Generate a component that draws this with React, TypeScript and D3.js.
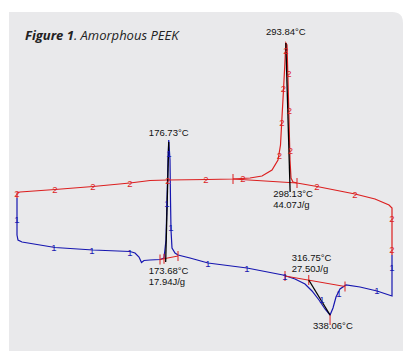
import { line, scaleLinear } from "d3";

// DSC trace: temperature (°C) vs heat flow (W/g, arbitrary offset)
const heatCurve: [number, number][] = [
    [25, -0.08], [25, -0.03], [28, -0.02], [63, 0.005], [101, 0.035], [138, 0.07],
    [158, 0.095], [176, 0.1], [215, 0.105], [241, 0.11], [258, 0.12], [270, 0.14],
    [280, 0.2], [286, 0.3], [288.5, 0.45], [290, 0.73], [291.5, 1.0], [292.8, 1.25],
    [293.84, 1.47], [295, 1.45], [296, 1.1], [297, 0.7], [298, 0.3], [299, 0.12],
    [301, 0.08], [305, 0.07], [325, 0.035], [363, -0.04], [383, -0.09], [397, -0.15],
    [400, -0.18], [400, -0.65],
];

const coolCurve: [number, number][] = [
    [25, -0.08], [25, -0.45], [26, -0.5], [30, -0.52], [48, -0.55], [63, -0.575],
    [101, -0.6], [138, -0.615], [143, -0.63], [147, -0.67], [149.5, -0.725], [152, -0.705],
    [158, -0.7], [168, -0.695], [172, -0.68], [174, -0.5], [175, -0.1], [176, 0.3],
    [176.73, 0.5], [178, 0.3], [178.5, -0.1], [179, -0.4], [180, -0.58], [183, -0.63],
    [186, -0.65], [198, -0.68], [216, -0.73], [255, -0.78], [291, -0.85], [303, -0.89],
    [313, -0.94], [320, -1.01], [327, -1.1], [333, -1.19], [338.06, -1.25], [341, -1.18],
    [344, -1.07], [348, -0.99], [354, -0.95], [368, -0.97], [385, -1.01], [400, -1.06],
    [400, -0.65],
];

const heatMarks: [number, number][] = [
    [25, -0.03], [63, 0.005], [101, 0.035], [138, 0.07], [176, 0.1], [214, 0.105],
    [251, 0.115], [325, 0.04], [363, -0.04], [400, -0.28], [400, -0.59],
    [294, 1.4], [291.5, 1.02], [297, 1.17], [290, 0.68], [297.5, 0.8], [287.5, 0.35], [298.5, 0.4],
];

const coolMarks: [number, number][] = [
    [25, -0.29], [62, -0.57], [100, -0.6], [138, -0.62], [177, 0.37], [175, -0.13],
    [179, -0.37], [216, -0.73], [255, -0.78], [293, -0.86], [330, -1.09], [347, -1.03],
    [385, -1.0], [400, -0.77],
];

// integration baselines and their tick points
const baselines: [number, number][][] = [
    [[168, -0.695], [186, -0.66]],
    [[293, -0.86], [353, -0.965]],
    [[241, 0.11], [305, 0.07]],
];
const baseTicks: [number, number][] = [
    [168, -0.695], [172, -0.688], [186, -0.66], [293, -0.86], [353, -0.965],
    [316.75, -0.9], [241, 0.11], [305, 0.07], [338.06, -1.3],
];

const dropLines: [number, number][][] = [
    [[176.73, 0.48], [173.68, -0.72]],
    [[293.84, 1.47], [298.13, -0.02]],
    [[316.75, -0.9], [338.06, -1.25]],
];

const peakLabels = [
    { lines: ["293.84°C"], t: 293.84, v: 1.47, dx: 0, dy: -8, anchor: "middle" },
    { lines: ["176.73°C"], t: 176.73, v: 0.48, dx: 0, dy: -6, anchor: "middle" },
    { lines: ["298.13°C", "44.07J/g"], t: 298.13, v: -0.02, dx: -17, dy: 5, anchor: "start" },
    { lines: ["173.68°C", "17.94J/g"], t: 173.68, v: -0.72, dx: -17, dy: 12, anchor: "start" },
    { lines: ["316.75°C", "27.50J/g"], t: 316.75, v: -0.9, dx: -17, dy: -19, anchor: "start" },
    { lines: ["338.06°C"], t: 338.06, v: -1.25, dx: -17, dy: 14, anchor: "start" },
];

const RED = "#dc1f1f";
const BLUE = "#1616b0";

export default function App() {
    const x = scaleLinear().domain([25, 400]).range([17, 392]);
    const y = scaleLinear().domain([-1.4, 1.6]).range([330, 30]);
    const path = line<[number, number]>()
        .x((d) => x(d[0]))
        .y((d) => y(d[1]));

    return (
        <svg
            width={413}
            height={359}
            style={{ position: "absolute", left: 0, top: 0 }}
            fontFamily="'Liberation Sans', Arial, sans-serif"
        >
            <rect width={413} height={359} fill="#ffffff" />
            <path
                d="M9,12 H392 Q403,12 403,23 V351 H9 Z"
                fill="#e9e9eb"
            />
            <text x={25} y={40} fontSize={13} fontStyle="italic" fontFamily="'Open Sans', sans-serif" fill="#222">
                <tspan fontWeight="bold">Figure 1</tspan>
                <tspan>. Amorphous PEEK</tspan>
            </text>

            <path d={path(coolCurve) ?? ""} fill="none" stroke={BLUE} strokeWidth={1.2} />
            <path d={path(heatCurve) ?? ""} fill="none" stroke={RED} strokeWidth={1.2} />

            {baselines.map((b, i) => (
                <path key={`b-${i}`} d={path(b) ?? ""} fill="none" stroke={RED} strokeWidth={1} />
            ))}
            {baseTicks.map(([t, v], i) => (
                <line
                    key={`t-${i}`}
                    x1={x(t)}
                    x2={x(t)}
                    y1={y(v) - 5}
                    y2={y(v) + 5}
                    stroke={RED}
                    strokeWidth={1}
                />
            ))}

            {dropLines.map((d, i) => (
                <path key={`d-${i}`} d={path(d) ?? ""} fill="none" stroke="#000" strokeWidth={1.3} />
            ))}

            {heatMarks.map(([t, v], i) => (
                <text key={`h-${i}`} x={x(t)} y={y(v) + 3.5} fontSize={9.5} textAnchor="middle" fill={RED}>
                    2
                </text>
            ))}
            {coolMarks.map(([t, v], i) => (
                <text key={`c-${i}`} x={x(t)} y={y(v) + 3.5} fontSize={9.5} textAnchor="middle" fill={BLUE}>
                    1
                </text>
            ))}

            {peakLabels.map((l, i) => (
                <text
                    key={`l-${i}`}
                    x={x(l.t) + l.dx}
                    y={y(l.v) + l.dy}
                    fontSize={9.5}
                    textAnchor={l.anchor}
                    fill="#111"
                >
                    {l.lines.map((s, j) => (
                        <tspan key={j} x={x(l.t) + l.dx} dy={j === 0 ? 0 : 11}>
                            {s}
                        </tspan>
                    ))}
                </text>
            ))}
        </svg>
    );
}
